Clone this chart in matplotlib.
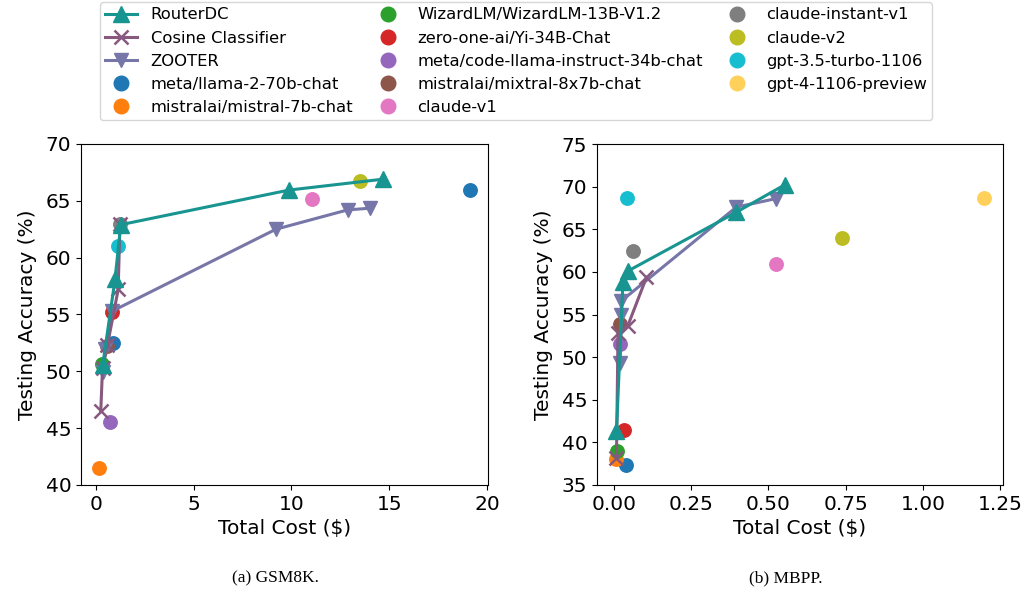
import matplotlib
matplotlib.use('Agg')
import matplotlib.pyplot as plt
from matplotlib.lines import Line2D

models = ['meta/llama-2-70b-chat', 'mistralai/mistral-7b-chat', 'WizardLM/WizardLM-13B-V1.2',
          'zero-one-ai/Yi-34B-Chat', 'meta/code-llama-instruct-34b-chat', 'mistralai/mixtral-8x7b-chat',
          'claude-v1', 'claude-instant-v1', 'claude-v2', 'gpt-3.5-turbo-1106', 'gpt-4-1106-preview']
model_colors = ['#1f77b4', '#ff7f0e', '#2ca02c', '#d62728', '#9467bd', '#8c564b',
                '#e377c2', '#7f7f7f', '#bcbd22', '#17becf', '#ffd05a']
# in the GSM8K panel gpt-4 comes out in the default blue
gsm_colors = model_colors[:-1] + ['#1f77b4']

# GSM8K
gsm_cost = [0.87, 0.18, 0.31, 0.85, 0.73, 0.56, 11.08, 1.24, 13.5, 1.15, 19.12]
gsm_acc = [52.5, 41.5, 50.65, 55.2, 45.5, 52.2, 65.2, 62.95, 66.75, 61.0, 65.95]
gsm_routerdc_x = [0.36, 0.99, 1.28, 9.89, 14.66]
gsm_routerdc_y = [50.55, 58.1, 62.9, 65.95, 66.9]
gsm_cosine_x = [0.26, 0.35, 0.6, 1.15, 1.24]
gsm_cosine_y = [46.5, 50.3, 52.3, 57.2, 62.95]
gsm_zooter_x = [0.39, 0.5, 0.85, 9.21, 12.87, 14.0]
gsm_zooter_y = [49.9, 52.0, 55.3, 62.5, 64.2, 64.35]

# MBPP
mbpp_cost = [0.038, 0.0055, 0.010, 0.031, 0.018, 0.018, 0.523, 0.061, 0.738, 0.043, 1.199]
mbpp_acc = [37.4, 38.1, 39.0, 41.4, 51.5, 53.85, 60.9, 62.5, 64.0, 68.7, 68.7]
mbpp_routerdc_x = [0.008, 0.029, 0.045, 0.396, 0.552]
mbpp_routerdc_y = [41.3, 58.8, 60.1, 67.0, 70.2]
mbpp_cosine_x = [0.008, 0.013, 0.045, 0.105]
mbpp_cosine_y = [38.2, 52.8, 53.7, 59.35]
mbpp_zooter_x = [0.02, 0.024, 0.024, 0.396, 0.525]
mbpp_zooter_y = [49.3, 55.0, 56.6, 67.6, 68.6]

c_router = '#189590'
c_cosine = '#87597f'
c_zooter = '#7676a8'

plt.rcParams['font.family'] = ['DejaVu Sans']

fig = plt.figure(figsize=(10.26, 5.94), dpi=100)
ax1 = fig.add_axes([81 / 1026, 1 - 485 / 594, 407 / 1026, 341 / 594])
ax2 = fig.add_axes([597 / 1026, 1 - 485 / 594, 406 / 1026, 341 / 594])


def draw(ax, cost, acc, colors, rx, ry, cx, cy, zx, zy):
    ax.plot(zx, zy, color=c_zooter, marker='v', markersize=10, linewidth=2.2, zorder=2)
    ax.plot(cx, cy, color=c_cosine, marker='x', markersize=10, markeredgewidth=1.8, linewidth=2.2, zorder=2.1)
    ax.plot(rx, ry, color=c_router, marker='^', markersize=11, linewidth=2.2, zorder=2.2)
    for i in range(len(models)):
        ax.scatter(cost[i], acc[i], s=115, color=colors[i], zorder=1, linewidths=0)
    ax.set_xlabel('Total Cost ($)', fontsize=14.5)
    ax.set_ylabel('Testing Accuracy (%)', fontsize=14.5, labelpad=6)
    ax.tick_params(labelsize=14.5)


draw(ax1, gsm_cost, gsm_acc, gsm_colors, gsm_routerdc_x, gsm_routerdc_y,
     gsm_cosine_x, gsm_cosine_y, gsm_zooter_x, gsm_zooter_y)
ax1.set_ylim(40, 70)
ax1.set_xlim(-0.75, 20.05)
ax1.set_xticks([0, 5, 10, 15, 20])

draw(ax2, mbpp_cost, mbpp_acc, model_colors, mbpp_routerdc_x, mbpp_routerdc_y,
     mbpp_cosine_x, mbpp_cosine_y, mbpp_zooter_x, mbpp_zooter_y)
ax2.set_ylim(35, 75)
ax2.set_xlim(-0.055, 1.259)
ax2.set_xticks([0, 0.25, 0.5, 0.75, 1.0, 1.25])
ax2.set_xticklabels(['0.00', '0.25', '0.50', '0.75', '1.00', '1.25'])

handles = [
    Line2D([], [], color=c_router, marker='^', markersize=11, linewidth=2.2),
    Line2D([], [], color=c_cosine, marker='x', markersize=10, markeredgewidth=1.8, linewidth=2.2),
    Line2D([], [], color=c_zooter, marker='v', markersize=10, linewidth=2.2),
]
labels = ['RouterDC', 'Cosine Classifier', 'ZOOTER']
for name, col in zip(models, model_colors):
    handles.append(Line2D([], [], color=col, marker='o', linestyle='', markersize=10.5))
    labels.append(name)

fig.legend(handles, labels, ncol=3, loc='upper center', bbox_to_anchor=(0.503, 1.0),
           fontsize=11.8, frameon=True, handlelength=2.0, columnspacing=1.1,
           labelspacing=0.5, borderpad=0.3, borderaxespad=0.15)

fig.text(275 / 1026, 1 - 578 / 594, '(a) GSM8K.', ha='center', va='center',
         family='Liberation Serif', fontsize=12.5)
fig.text(786 / 1026, 1 - 578 / 594, '(b) MBPP.', ha='center', va='center',
         family='Liberation Serif', fontsize=12.5)

fig.savefig('out.png', dpi=100)
